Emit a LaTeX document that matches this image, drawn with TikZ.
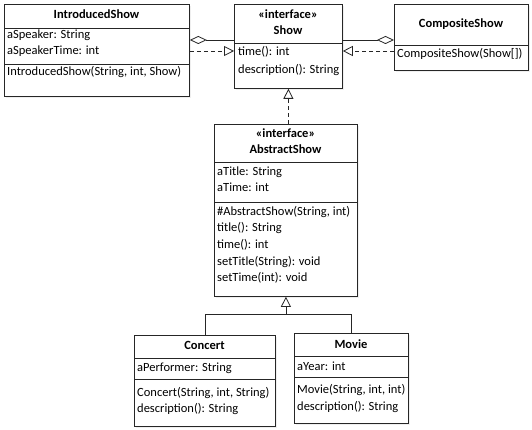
\documentclass[tikz,border=0pt]{standalone}
\usepackage{fontspec}
\setmainfont{Carlito}
\usetikzlibrary{arrows.meta,shadows}
\tikzset{
  box/.style={draw=black!85, fill=white, line width=0.8pt, anchor=north west, inner sep=0pt,
    drop shadow={shadow xshift=2pt, shadow yshift=-2pt, fill=black!12}},
  sep/.style={draw=black!85, line width=0.8pt},
  txt/.style={anchor=west, inner sep=0pt, font=\fontsize{12.5}{14}\selectfont, text height=8.5pt, text depth=2.5pt},
  ttl/.style={anchor=center, inner sep=0pt, font=\fontsize{12.5}{14}\selectfont\bfseries, text height=8.5pt, text depth=2.5pt},
  conn/.style={draw=black!85, line width=0.8pt},
  dashline/.style={dash pattern=on 4pt off 3pt},
  agg/.style={{Diamond[open, length=17pt, width=8pt, line width=0.8pt]}-},
  real/.style={-{Triangle[open, length=10pt, width=10pt, line width=0.8pt]}},
}
\begin{document}
\begin{tikzpicture}[x=1pt,y=-1pt]
\useasboundingbox[fill=white] (0,0) rectangle (532,430);
\coordinate (y40) at (0,40);
\coordinate (y51) at (0,51);
\coordinate (y314) at (0,314);
% IntroducedShow
\node[box, minimum width=185pt, minimum height=92pt] (intro) at (4,4) {};
\draw[sep] (4,28) -- (189,28);
\draw[sep] (4,64) -- (189,64);
\node[ttl] (introT) at (96.5,16) {IntroducedShow};
\node[txt] (introA1) at (7,36) {aSpeaker: String};
\node[txt] (introA2) at (7,52) {aSpeakerTime: int};
\node[txt] (introM1) at (7,73) {IntroducedShow(String, int, Show)};
% Show
\node[box, minimum width=108pt, minimum height=84pt] (show) at (234,4) {};
\draw[sep] (234,43) -- (342,43);
\node[ttl] (showS) at (288,16) {«interface»};
\node[ttl] (showT) at (288,32) {Show};
\node[txt] (showM1) at (238,53) {time(): int};
\node[txt] (showM2) at (238,71) {description(): String};
% CompositeShow
\node[box, minimum width=134pt, minimum height=66pt] (comp) at (394,4) {};
\draw[sep] (394,45) -- (528,45);
\node[ttl] (compT) at (461,25) {CompositeShow};
\node[txt] (compM1) at (397,55) {CompositeShow(Show[])};
% AbstractShow
\node[box, minimum width=143pt, minimum height=172pt] (abs) at (214,124) {};
\draw[sep] (214,162) -- (357,162);
\draw[sep] (214,202) -- (357,202);
\node[ttl] (absS) at (285.5,135) {«interface»};
\node[ttl] (absT) at (285.5,151) {AbstractShow};
\node[txt] (absA1) at (217,173) {aTitle: String};
\node[txt] (absA2) at (217,189) {aTime: int};
\node[txt] (absM1) at (217,213) {\#AbstractShow(String, int)};
\node[txt] (absM2) at (217,229) {title(): String};
\node[txt] (absM3) at (217,245) {time(): int};
\node[txt] (absM4) at (217,262) {setTitle(String): void};
\node[txt] (absM5) at (217,278) {setTime(int): void};
% Concert
\node[box, minimum width=141pt, minimum height=91pt] (concert) at (134,335) {};
\draw[sep] (134,358) -- (275,358);
\draw[sep] (134,379) -- (275,379);
\node[ttl] (concT) at (204.5,346) {Concert};
\node[txt] (concA1) at (137,368) {aPerformer: String};
\node[txt] (concM1) at (137,393) {Concert(String, int, String)};
\node[txt] (concM2) at (137,409) {description(): String};
% Movie
\node[box, minimum width=114pt, minimum height=90pt] (movie) at (294,333) {};
\draw[sep] (294,356) -- (408,356);
\draw[sep] (294,377) -- (408,377);
\node[ttl] (movT) at (351,345) {Movie};
\node[txt] (movA1) at (297,367) {aYear: int};
\node[txt] (movM1) at (297,390) {Movie(String, int, int)};
\node[txt] (movM2) at (297,407) {description(): String};
% connectors
\draw[conn, agg] (intro.east |- y40) -- (show.west |- y40);
\draw[conn, dashline, real] (intro.east |- y51) -- (show.west |- y51);
\draw[conn, agg] (comp.west |- y40) -- (show.east |- y40);
\draw[conn, dashline, real] (comp.west |- y51) -- (show.east |- y51);
\draw[conn, dashline, real] (abs.north -| show.south) -- (show.south);
\coordinate (j) at (abs.south |- y314);
\draw[conn] (concert.north) |- (j);
\draw[conn] (movie.north) |- (j);
\draw[conn, real] (j) -- (abs.south);
\end{tikzpicture}
\end{document}
